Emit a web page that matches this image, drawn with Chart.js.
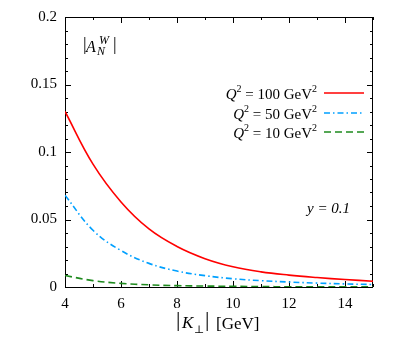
<!DOCTYPE html>
<html>
<head>
<meta charset="utf-8">
<script src="https://cdn.jsdelivr.net/npm/chart.js@4/dist/chart.umd.min.js"></script>
<style>
  body { margin: 0; background: #fff; }
  #wrap { width: 399px; height: 349px; }
</style>
</head>
<body>
<div id="wrap"><canvas id="c" width="399" height="349"></canvas></div>
<script>
// |K_perp| in GeV
var kPerp = [4, 5, 6, 7, 8, 9, 10, 11, 12, 13, 14, 15];
// |A_N^W|
var aQ100 = [0.130, 0.091, 0.063, 0.043, 0.030, 0.0210, 0.0150, 0.0112, 0.0088, 0.0070, 0.0055, 0.0043];
var aQ50  = [0.068, 0.042, 0.027, 0.0175, 0.0118, 0.0084, 0.0061, 0.0047, 0.0037, 0.0029, 0.0023, 0.0018];
var aQ10  = [0.0085, 0.0047, 0.0027, 0.0016, 0.0010, 0.0007, 0.0005, 0.0003, 0.0002, 0.00015, 0.0001, 0.0001];
var q2Values = ['100', '50', '10'];

var xTicks = [4, 6, 8, 10, 12, 14];
var xMinor = [5, 7, 9, 11, 13, 15];
var yTicks = [0, 0.05, 0.1, 0.15, 0.2];
var yTickLabels = ['0', '0.05', '0.1', '0.15', '0.2'];
var yMinor = [0.01, 0.02, 0.03, 0.04, 0.06, 0.07, 0.08, 0.09, 0.11, 0.12, 0.13, 0.14, 0.16, 0.17, 0.18, 0.19];

var SERIF = '"Liberation Serif", "DejaVu Serif", serif';

function pts(ys) {
    return kPerp.map(function(k, i) { return { x: k, y: ys[i] }; });
}

// draw a row of text pieces: [text, font, dy]
function runs(ctx, parts, x, y, align) {
    var w = 0;
    parts.forEach(function(p) { ctx.font = p[1]; w += ctx.measureText(p[0]).width; });
    var cx = align === 'right' ? x - w : x;
    ctx.textAlign = 'left';
    ctx.textBaseline = 'alphabetic';
    parts.forEach(function(p) {
        ctx.font = p[1];
        ctx.fillText(p[0], cx, y + (p[2] || 0));
        cx += ctx.measureText(p[0]).width;
    });
}

var framePlugin = {
    id: 'frame',
    beforeDatasetsDraw: function(chart) {
        var ctx = chart.ctx, a = chart.chartArea;
        var xs = chart.scales.x, ys = chart.scales.y;
        ctx.save();
        ctx.strokeStyle = '#000';
        ctx.lineWidth = 1;
        ctx.strokeRect(a.left + 0.5, a.top + 0.5, a.right - a.left - 1, a.bottom - a.top);
        ctx.beginPath();
        function xt(v, len) {
            var px = Math.round(xs.getPixelForValue(v)) + 0.5;
            ctx.moveTo(px, a.bottom); ctx.lineTo(px, a.bottom - len);
            ctx.moveTo(px, a.top); ctx.lineTo(px, a.top + len);
        }
        function yt(v, len) {
            var py = Math.round(ys.getPixelForValue(v)) + 0.5;
            ctx.moveTo(a.left, py); ctx.lineTo(a.left + len, py);
            ctx.moveTo(a.right, py); ctx.lineTo(a.right - len, py);
        }
        xTicks.forEach(function(v) { xt(v, 6); });
        xMinor.forEach(function(v) { xt(v, 3); });
        yTicks.forEach(function(v) { yt(v, 6); });
        yMinor.forEach(function(v) { yt(v, 3); });
        ctx.stroke();
        ctx.restore();
    },
    afterDraw: function(chart) {
        var ctx = chart.ctx;
        ctx.save();
        ctx.fillStyle = '#000';

        // legend, text to the left of the sample line
        var rowY = [99, 119, 138];
        chart.data.datasets.forEach(function(ds, i) {
            runs(ctx, [
                ['Q', 'italic 15px ' + SERIF],
                ['2', '10px ' + SERIF, -7],
                [' = ' + q2Values[i] + ' GeV', '15px ' + SERIF],
                ['2', '10px ' + SERIF, -7]
            ], 317, rowY[i], 'right');
            ctx.beginPath();
            ctx.strokeStyle = ds.borderColor;
            ctx.lineWidth = ds.borderWidth;
            ctx.setLineDash(ds.borderDash || []);
            ctx.moveTo(324, rowY[i] - 6);
            ctx.lineTo(364, rowY[i] - 6);
            ctx.stroke();
            ctx.setLineDash([]);
        });

        // |A_N^W|
        ctx.font = '18px ' + SERIF;
        ctx.fillText('|', 83, 50);
        ctx.fillText('|', 113, 50);
        ctx.font = 'italic 16px ' + SERIF;
        ctx.fillText('A', 86, 52);
        ctx.font = 'italic 12px ' + SERIF;
        ctx.fillText('W', 99, 44);
        ctx.fillText('N', 97, 55);

        // y = 0.1
        ctx.font = 'italic 15px ' + SERIF;
        ctx.fillText('y = 0.1', 307, 213);

        // x title |K_perp| [GeV]
        ctx.font = '22px ' + SERIF;
        ctx.fillText('|', 176, 326);
        ctx.fillText('|', 205, 326);
        ctx.font = 'italic 17px ' + SERIF;
        ctx.fillText('K', 182, 328);
        ctx.font = '11px ' + SERIF;
        ctx.fillText('\u22A5', 194, 333);
        ctx.font = '17px ' + SERIF;
        ctx.fillText('[GeV]', 216, 329);
        ctx.restore();
    }
};

new Chart(document.getElementById('c'), {
    type: 'line',
    data: {
        datasets: [
            { label: 'Q² = 100 GeV²', data: pts(aQ100), borderColor: '#ff0000', borderWidth: 1.6 },
            { label: 'Q² = 50 GeV²',  data: pts(aQ50),  borderColor: '#00a0ff', borderWidth: 1.6, borderDash: [6, 3, 1.5, 3] },
            { label: 'Q² = 10 GeV²',  data: pts(aQ10),  borderColor: '#1e8a1e', borderWidth: 1.6, borderDash: [7, 4] }
        ]
    },
    options: {
        responsive: false,
        animation: false,
        events: [],
        layout: { padding: { left: 0, right: 26, top: 17, bottom: 0 } },
        elements: {
            point: { radius: 0 },
            line: { tension: 0.4, fill: false }
        },
        plugins: { legend: { display: false }, tooltip: { enabled: false } },
        scales: {
            x: {
                type: 'linear', min: 4, max: 15,
                afterBuildTicks: function(s) { s.ticks = xTicks.map(function(v) { return { value: v }; }); },
                afterFit: function(s) { s.height = 62; },
                grid: { display: false, drawTicks: false },
                border: { display: false },
                ticks: { color: '#000', padding: 8, maxRotation: 0, font: { family: SERIF, size: 15 } }
            },
            y: {
                type: 'linear', min: 0, max: 0.2,
                afterBuildTicks: function(s) { s.ticks = yTicks.map(function(v) { return { value: v }; }); },
                afterFit: function(s) { s.width = 65; },
                grid: { display: false, drawTicks: false },
                border: { display: false },
                ticks: {
                    color: '#000', padding: 8, font: { family: SERIF, size: 15 },
                    callback: function(v, i) { return yTickLabels[i]; }
                }
            }
        }
    },
    plugins: [framePlugin]
});
</script>
</body>
</html>
